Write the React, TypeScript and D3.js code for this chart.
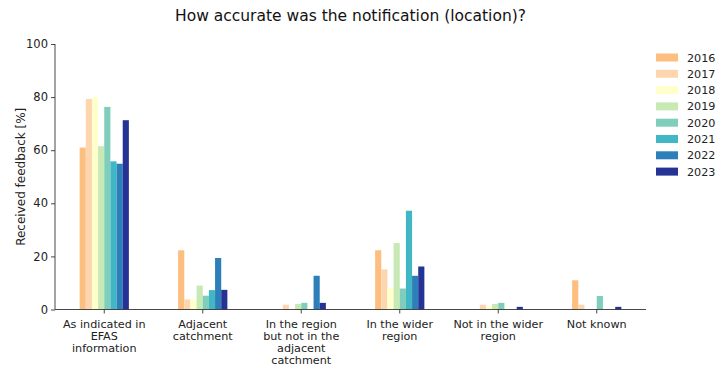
import React, { useEffect, useRef } from 'react';
import * as d3 from 'd3';

const categories = [
  ['As indicated in', 'EFAS', 'information'],
  ['Adjacent', 'catchment'],
  ['In the region', 'but not in the', 'adjacent', 'catchment'],
  ['In the wider', 'region'],
  ['Not in the wider', 'region'],
  ['Not known'],
];

const years = ['2016', '2017', '2018', '2019', '2020', '2021', '2022', '2023'];

const colors = ['#fdbf80', '#fdd6b0', '#ffffcc', '#c7e9b4', '#7fcdbb', '#41b6c4', '#2c7fb8', '#253494'];

// one array per year, values per category
const v2016 = [61, 22.3, 0, 22.3, 0, 11];
const v2017 = [79.3, 3.8, 1.8, 15.1, 1.8, 1.8];
const v2018 = [80, 3.8, 0, 7.9, 1.2, 0];
const v2019 = [61.5, 9, 2.1, 25, 2.1, 0];
const v2020 = [76.3, 5.2, 2.5, 7.9, 2.5, 5.1];
const v2021 = [55.8, 7.3, 0, 37.2, 0, 0];
const v2022 = [54.9, 19.4, 12.7, 12.7, 0, 0];
const v2023 = [71.3, 7.4, 2.5, 16.2, 1.0, 1.0];
const series = [v2016, v2017, v2018, v2019, v2020, v2021, v2022, v2023];

const yTicks = [0, 20, 40, 60, 80, 100];

const App = () => {
  const ref = useRef<SVGSVGElement>(null);

  useEffect(() => {
    const svg = d3.select(ref.current);
    svg.selectAll('*').remove();
    const left = 55, right = 646, top = 44, bottom = 309.5;
    const font = 'DejaVu Sans, sans-serif';

    const x = d3.scaleBand<number>().domain(d3.range(categories.length)).range([left, right]);
    const inner = d3.scaleBand<number>().domain(d3.range(years.length))
      .range([-x.bandwidth() / 4, x.bandwidth() / 4]);
    const y = d3.scaleLinear().domain([0, 100]).range([bottom, top]);

    svg.append('text')
      .attr('x', (left + right) / 2).attr('y', 20.5)
      .attr('text-anchor', 'middle')
      .attr('font-family', font).attr('font-size', 15.5).attr('fill', '#111')
      .text('How accurate was the notification (location)?');

    series.forEach((vals, si) => {
      svg.append('g').selectAll('rect').data(vals).enter().append('rect')
        .attr('x', (d, i) => (x(i) as number) + x.bandwidth() / 2 + (inner(si) as number))
        .attr('y', d => y(d))
        .attr('width', inner.bandwidth())
        .attr('height', d => bottom - y(d))
        .attr('fill', colors[si]);
    });

    const yAxis = svg.append('g').attr('transform', `translate(${left},0)`)
      .call(d3.axisLeft(y).tickValues(yTicks).tickSize(4).tickPadding(3));
    const xAxis = svg.append('g').attr('transform', `translate(0,${bottom})`)
      .call(d3.axisBottom(x).tickSize(4).tickFormat(() => ''));
    [yAxis, xAxis].forEach(a => {
      a.select('.domain').attr('stroke', '#333').attr('stroke-width', 0.9);
      a.selectAll('.tick line').attr('stroke', '#333').attr('stroke-width', 0.9);
      a.selectAll('text').attr('font-family', font).attr('font-size', 11.5).attr('fill', '#222');
    });
    // remove outer tick ends
    yAxis.select('.domain').attr('d', `M0,${bottom}V${top}`);
    xAxis.select('.domain').attr('d', `M${left},0H${right}`);

    const lbl = svg.append('g');
    categories.forEach((lines, i) => {
      const t = lbl.append('text')
        .attr('text-anchor', 'middle')
        .attr('font-family', font).attr('font-size', 11.2).attr('fill', '#222');
      lines.forEach((ln, j) => {
        t.append('tspan').attr('x', (x(i) as number) + x.bandwidth() / 2)
          .attr('y', 327.5 + j * 12.3).text(ln);
      });
    });

    svg.append('text')
      .attr('transform', `translate(25,${(top + bottom) / 2}) rotate(-90)`)
      .attr('text-anchor', 'middle')
      .attr('font-family', font).attr('font-size', 12).attr('fill', '#222')
      .text('Received feedback [%]');

    const leg = svg.append('g');
    years.forEach((yr, i) => {
      const cy = 57.5 + i * 16.3;
      leg.append('rect').attr('x', 656).attr('y', cy - 4).attr('width', 22).attr('height', 8)
        .attr('fill', colors[i]);
      leg.append('text').attr('x', 687).attr('y', cy + 4)
        .attr('font-family', font).attr('font-size', 11.2).attr('fill', '#222').text(yr);
    });
  }, []);

  return <svg ref={ref} width={728} height={375} style={{ position: 'absolute', left: 0, top: 0 }}></svg>;
};

export default App;
